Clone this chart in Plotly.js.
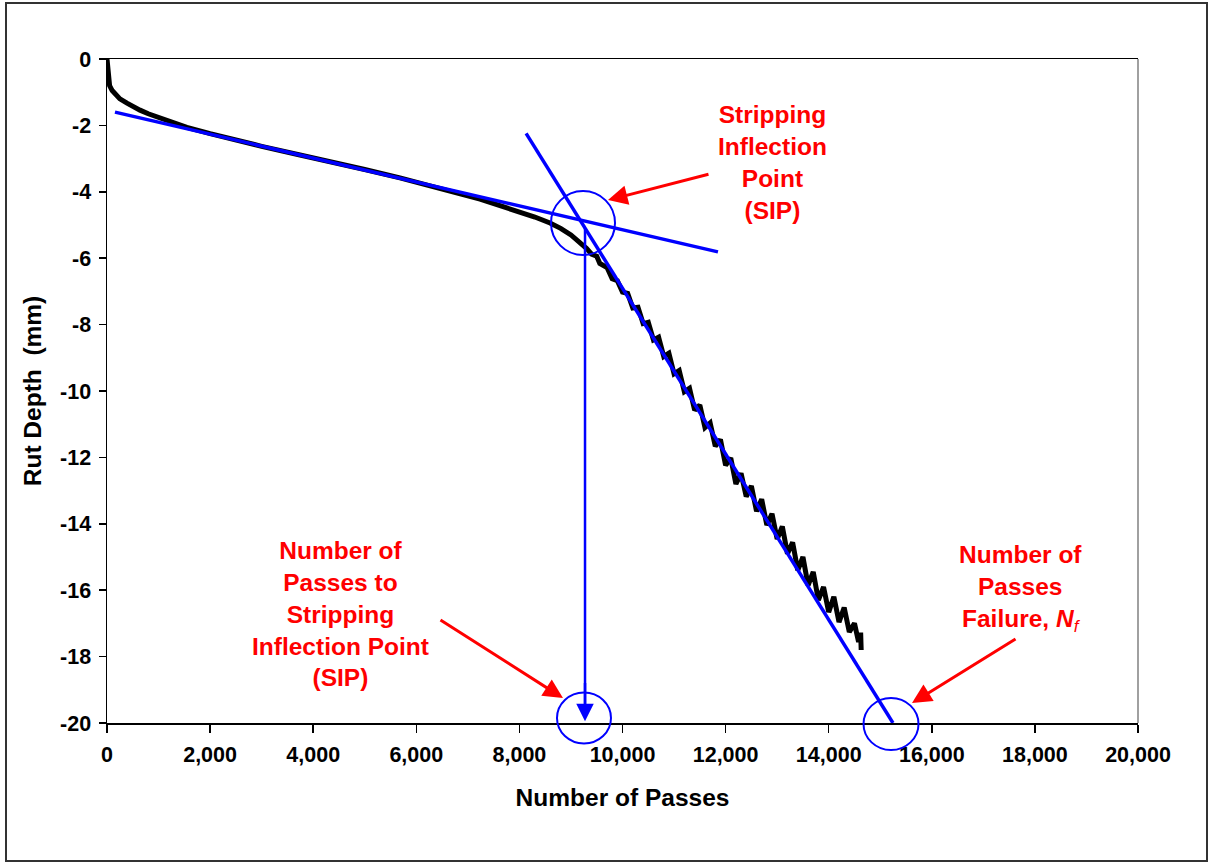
<!DOCTYPE html>
<html>
<head>
<meta charset="utf-8">
<script src="https://cdn.plot.ly/plotly-3.0.1.min.js"></script>
<style>
  html, body { margin: 0; padding: 0; background: #ffffff; }
  #chart { width: 1213px; height: 864px; }
</style>
</head>
<body>
<div id="chart"></div>
<script>
// ---------------- DATA ----------------
const passes = [
  0, 10, 25, 50, 100, 155, 250, 388, 500, 640, 800, 1028, 1300, 1550, 2000, 2444,
  3000, 3744, 4500, 5000, 5683, 6266, 6800, 7236, 7624, 8000, 8300, 8594, 8800,
  9000, 9100, 9180, 9300, 9400, 9500, 9560, 9700, 9800, 9900, 10000, 10100, 10200,
  10300, 10400, 10500, 10600, 10700, 10800, 10900, 11000, 11100, 11200, 11300,
  11400, 11500, 11600, 11700, 11800, 11900, 12000, 12100, 12200, 12300, 12400,
  12500, 12600, 12700, 12800, 12900, 13000, 13100, 13200, 13300, 13400, 13500,
  13600, 13700, 13800, 13900, 14000, 14100, 14200, 14300, 14400, 14500, 14580,
  14620, 14630
];
const rutDepth = [
  0, -0.3, -0.55, -0.8, -0.95, -1.05, -1.2, -1.33, -1.44, -1.54, -1.65, -1.78, -1.94,
  -2.06, -2.25, -2.43, -2.63, -2.89, -3.14, -3.33, -3.58, -3.81, -4.04, -4.22, -4.42,
  -4.60, -4.76, -4.94, -5.10,
  -5.30, -5.42, -5.56, -5.70, -5.88, -5.94, -6.16, -6.28, -6.62, -6.68, -7.02, -7.06,
  -7.50, -7.48, -7.97, -7.93, -8.46, -8.38, -8.96, -8.86, -9.48, -9.38, -10.02,
  -9.92, -10.58, -10.42, -11.10, -10.96, -11.66, -11.46, -12.24, -12.02, -12.80,
  -12.48, -13.18, -12.86, -13.62, -13.26, -14.04, -13.70, -14.46, -14.08, -14.90,
  -14.56, -15.40, -15.00, -15.85, -15.45, -16.30, -15.90, -16.66, -16.20, -16.96,
  -16.52, -17.26, -17.00, -17.56, -17.28, -17.80
];

// tangent lines (Number of passes, rut depth)
const upperTangentN = [155, 11852];
const upperTangentD = [-1.6, -5.81];
const steepTangentN = [8130, 15247];
const steepTangentD = [-2.24, -20.0];

// SIP drop line
const sipN = 9273;
const sipTopD = -5.09;
const sipBottomD = -19.95;

// circles: [centerN, centerD, radiusXpx, radiusYpx]
const circleSIP = [9234, -4.94, 32, 32];
const circleSIPAxis = [9253, -19.85, 27, 25.5];
const circleNf = [15209, -20.03, 27.5, 26];

// axis ticks
const xTickVals = [0, 2000, 4000, 6000, 8000, 10000, 12000, 14000, 16000, 18000, 20000];
const xTickText = ['0', '2,000', '4,000', '6,000', '8,000', '10,000', '12,000', '14,000', '16,000', '18,000', '20,000'];
const yTickVals = [0, -2, -4, -6, -8, -10, -12, -14, -16, -18, -20];
const yTickText = ['0', '-2', '-4', '-6', '-8', '-10', '-12', '-14', '-16', '-18', '-20'];

// labels
const labelSIP = 'Stripping<br>Inflection<br>Point<br>(SIP)';
const labelSIPPasses = 'Number of<br>Passes to<br>Stripping<br>Inflection Point<br>(SIP)';
const labelNf = 'Number of<br>Passes<br>Failure, <i>N</i><sub><span style="font-weight:normal"><i>f</i></span></sub>';

// ---------------- LAYOUT ----------------
const W = 1213, H = 864;
const M = { l: 107, r: 75, t: 59, b: 141 };
const plotW = W - M.l - M.r;
const plotH = H - M.t - M.b;
const xRange = [0, 20000];
const yRange = [-20, 0];

function toPaperX(n) { return (n - xRange[0]) / (xRange[1] - xRange[0]); }
function toPaperY(d) { return (d - yRange[0]) / (yRange[1] - yRange[0]); }
function circleShape(c) {
  const cx = toPaperX(c[0]), cy = toPaperY(c[1]);
  const rx = c[2] / plotW, ry = c[3] / plotH;
  return {
    type: 'circle', xref: 'paper', yref: 'paper',
    x0: cx - rx, x1: cx + rx, y0: cy - ry, y1: cy + ry,
    line: { color: '#0000FF', width: 2 }, layer: 'above'
  };
}

const FONT = 'Liberation Sans, Arial, sans-serif';
const RED = '#FF0000';
const BLUE = '#0000FF';

const traces = [
  {
    x: passes, y: rutDepth, type: 'scatter', mode: 'lines',
    line: { color: '#000000', width: 5 }, hoverinfo: 'skip', showlegend: false
  },
  {
    x: upperTangentN, y: upperTangentD, type: 'scatter', mode: 'lines',
    line: { color: BLUE, width: 3.5 }, showlegend: false
  },
  {
    x: steepTangentN, y: steepTangentD, type: 'scatter', mode: 'lines',
    line: { color: BLUE, width: 3.5 }, showlegend: false, cliponaxis: false
  }
];

const redFont = { family: FONT, size: 24.5, color: RED, weight: 'bold' };

const layout = {
  width: W, height: H,
  margin: M,
  paper_bgcolor: '#ffffff', plot_bgcolor: '#ffffff',
  showlegend: false,
  xaxis: {
    range: xRange, tickvals: xTickVals, ticktext: xTickText,
    showgrid: false, zeroline: false,
    showline: true, linecolor: '#000000', linewidth: 1.5, mirror: true,
    ticks: 'outside', ticklen: 8, tickwidth: 1.5, tickcolor: '#000000',
    ticklabelstandoff: 4,
    tickfont: { family: FONT, size: 21.5, color: '#000000', weight: 'bold' },
    title: { text: 'Number of Passes', font: { family: FONT, size: 24.5, color: '#000000', weight: 'bold' }, standoff: 22 }
  },
  yaxis: {
    range: yRange, tickvals: yTickVals, ticktext: yTickText,
    showgrid: false, zeroline: false,
    showline: true, linecolor: '#000000', linewidth: 1.5, mirror: false,
    ticks: 'outside', ticklen: 7, tickwidth: 1.5, tickcolor: '#000000',
    ticklabelstandoff: 3,
    tickfont: { family: FONT, size: 21.5, color: '#000000', weight: 'bold' },
    title: { text: 'Rut Depth\u00a0 (mm)', font: { family: FONT, size: 24.5, color: '#000000', weight: 'bold' }, standoff: 11 }
  },
  shapes: [
    // outer frame
    { type: 'rect', xref: 'paper', yref: 'paper',
      x0: (6 - M.l) / plotW, x1: (1207 - M.l) / plotW,
      y0: -(861 - M.t - plotH) / plotH, y1: (M.t + plotH - 3) / plotH,
      line: { color: '#333333', width: 2 }, fillcolor: 'rgba(0,0,0,0)', layer: 'below' },
    // right plot border (grey)
    { type: 'line', xref: 'paper', yref: 'paper', x0: 1, x1: 1, y0: 0, y1: 1,
      line: { color: '#808080', width: 1.5 } },
    // SIP vertical drop line
    { type: 'line', xref: 'x', yref: 'y', x0: sipN, x1: sipN, y0: sipTopD, y1: sipBottomD + 0.4,
      line: { color: BLUE, width: 2.5 } },
    circleShape(circleSIP),
    circleShape(circleSIPAxis),
    circleShape(circleNf)
  ],
  annotations: [
    // blue arrowhead at bottom of SIP drop line
    { x: sipN, y: sipBottomD, xref: 'x', yref: 'y', ax: sipN, ay: sipBottomD + 1.2, axref: 'x', ayref: 'y',
      text: '', showarrow: true, arrowhead: 2, arrowsize: 1.4, arrowwidth: 2.5, arrowcolor: BLUE },
    // red arrows
    { x: 9719, y: -4.25, xref: 'x', yref: 'y', ax: 11697, ay: -3.46, axref: 'x', ayref: 'y',
      text: '', showarrow: true, arrowhead: 2, arrowsize: 1.3, arrowwidth: 3, arrowcolor: RED },
    { x: 8845, y: -19.25, xref: 'x', yref: 'y', ax: 6440, ay: -16.87, axref: 'x', ayref: 'y',
      text: '', showarrow: true, arrowhead: 2, arrowsize: 1.3, arrowwidth: 3, arrowcolor: RED },
    { x: 15616, y: -19.40, xref: 'x', yref: 'y', ax: 17653, ay: -17.44, axref: 'x', ayref: 'y',
      text: '', showarrow: true, arrowhead: 2, arrowsize: 1.3, arrowwidth: 3, arrowcolor: RED },
    // red labels
    { x: 12901, y: -3.12, xref: 'x', yref: 'y', text: labelSIP, showarrow: false,
      font: redFont, align: 'center', xanchor: 'center', yanchor: 'middle' },
    { x: 4539, y: -16.73, xref: 'x', yref: 'y', text: labelSIPPasses, showarrow: false,
      font: redFont, align: 'center', xanchor: 'center', yanchor: 'middle' },
    { x: 17711, y: -15.95, xref: 'x', yref: 'y', text: labelNf, showarrow: false,
      font: redFont, align: 'center', xanchor: 'center', yanchor: 'middle' }
  ]
};

Plotly.newPlot('chart', traces, layout, { staticPlot: true, displayModeBar: false });
</script>
</body>
</html>
